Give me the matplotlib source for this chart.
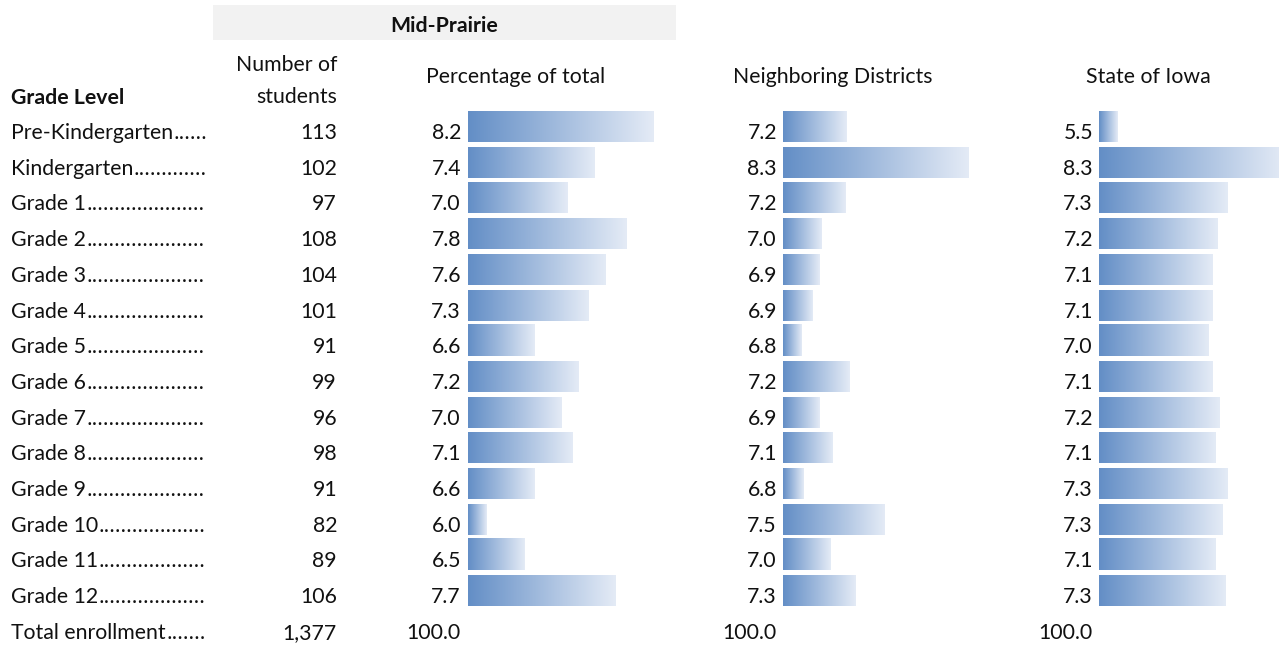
import matplotlib.pyplot as plt
import numpy as np
from matplotlib.colors import LinearSegmentedColormap
from matplotlib.patches import Rectangle

# dados da tabela
grades = ['Pre-Kindergarten', 'Kindergarten', 'Grade 1', 'Grade 2', 'Grade 3', 'Grade 4',
          'Grade 5', 'Grade 6', 'Grade 7', 'Grade 8', 'Grade 9', 'Grade 10', 'Grade 11', 'Grade 12']
students = [113, 102, 97, 108, 104, 101, 91, 99, 96, 98, 91, 82, 89, 106]
neighboring = [7.19, 8.30, 7.18, 6.96, 6.94, 6.88, 6.78, 7.22, 6.94, 7.06, 6.80, 7.54, 7.04, 7.27]
state = [5.50, 8.30, 7.34, 7.18, 7.09, 7.09, 7.03, 7.09, 7.21, 7.14, 7.34, 7.26, 7.14, 7.31]
total_label = 'Total enrollment'

FONT = 'Lato'
FS = 15.3
W, H = 1279, 646
BAR0, BASE0, ROW_STEP = 126.5, 139, 35.7

total_students = sum(students)
pct_total = [s / total_students * 100 for s in students]

cmap = LinearSegmentedColormap.from_list('databar', ['#638EC6', '#E4EBF6'])
grad = np.linspace(0, 1, 256).reshape(1, -1)


def row_base(i: int) -> float:
    return BASE0 + ROW_STEP * i


def data_bar_column(fig, x0: float, width: float, values: list[float]):
    """Desenha uma coluna de barras de dados (estilo Excel) com gradiente."""
    ax = fig.add_axes([x0 / W, 0, width / W, 1])
    vmin, vmax = min(values), max(values)
    px_per_unit = (185.5 - 18.5) / (vmax - vmin)
    lo = vmin - 18.5 / px_per_unit
    hi = lo + width / px_per_unit
    half = 15.5 / ROW_STEP
    for i, v in enumerate(values):
        ax.imshow(grad, cmap=cmap, extent=(lo, v, i + half, i - half),
                  aspect='auto', interpolation='bilinear')
    ax.set_xlim(lo, hi)
    ax.set_ylim((H - BAR0) / ROW_STEP, -BAR0 / ROW_STEP)
    ax.axis('off')
    return ax


fig = plt.figure(figsize=(W / 100, H / 100), dpi=100)
ax = fig.add_axes([0, 0, 1, 1])
ax.set_xlim(0, W)
ax.set_ylim(H, 0)
ax.axis('off')

txt = dict(fontfamily=FONT, fontsize=FS, color='#111111', va='baseline')

# cabeçalho
ax.add_patch(Rectangle((213, 5), 463, 35, facecolor='#F2F2F2', edgecolor='none'))
ax.text(444, 32, 'Mid-Prairie', ha='center', fontweight='bold', **txt)
ax.text(337, 71, 'Number of', ha='right', **txt)
ax.text(337, 103, 'students', ha='right', **txt)
ax.text(11, 104, 'Grade Level', ha='left', fontweight='bold', **txt)
ax.text(516, 83, 'Percentage of total', ha='center', **txt)
ax.text(833, 83, 'Neighboring Districts', ha='center', **txt)
ax.text(1148, 83, 'State of Iowa', ha='center', **txt)

renderer = fig.canvas.get_renderer()


def leader_label(y: float, name: str, right: float = 208):
    """Escreve o rótulo e completa com pontos até a largura da coluna."""
    t = ax.text(11, y, name, ha='left', **txt)
    x1 = t.get_window_extent(renderer).x1
    dots_kw = dict(txt, fontfamily='Noto Sans', fontsize=FS * 0.98)
    d = ax.text(x1 + 0.5, y, '.', ha='left', **dots_kw)
    dots = '.'
    while d.get_window_extent(renderer).x1 < right:
        dots += '.'
        d.set_text(dots)
    d.set_text(dots[:-1])


for i, g in enumerate(grades):
    y = row_base(i)
    leader_label(y, g)
    ax.text(337, y, f'{students[i]}', ha='right', **txt)
    ax.text(461, y, f'{pct_total[i]:.1f}', ha='right', **txt)
    ax.text(777, y, f'{neighboring[i]:.1f}', ha='right', **txt)
    ax.text(1093, y, f'{state[i]:.1f}', ha='right', **txt)

yt = row_base(len(grades))
leader_label(yt, total_label)
ax.text(337, yt, f'{total_students:,}', ha='right', **txt)
for xr in (461, 777, 1093):
    ax.text(xr, yt, '100.0', ha='right', **txt)

data_bar_column(fig, 467.5, 210, pct_total)
data_bar_column(fig, 782.5, 210, neighboring)
data_bar_column(fig, 1098.5, W - 1098.5, state)

fig.savefig('out.png', dpi=100)
plt.close(fig)
